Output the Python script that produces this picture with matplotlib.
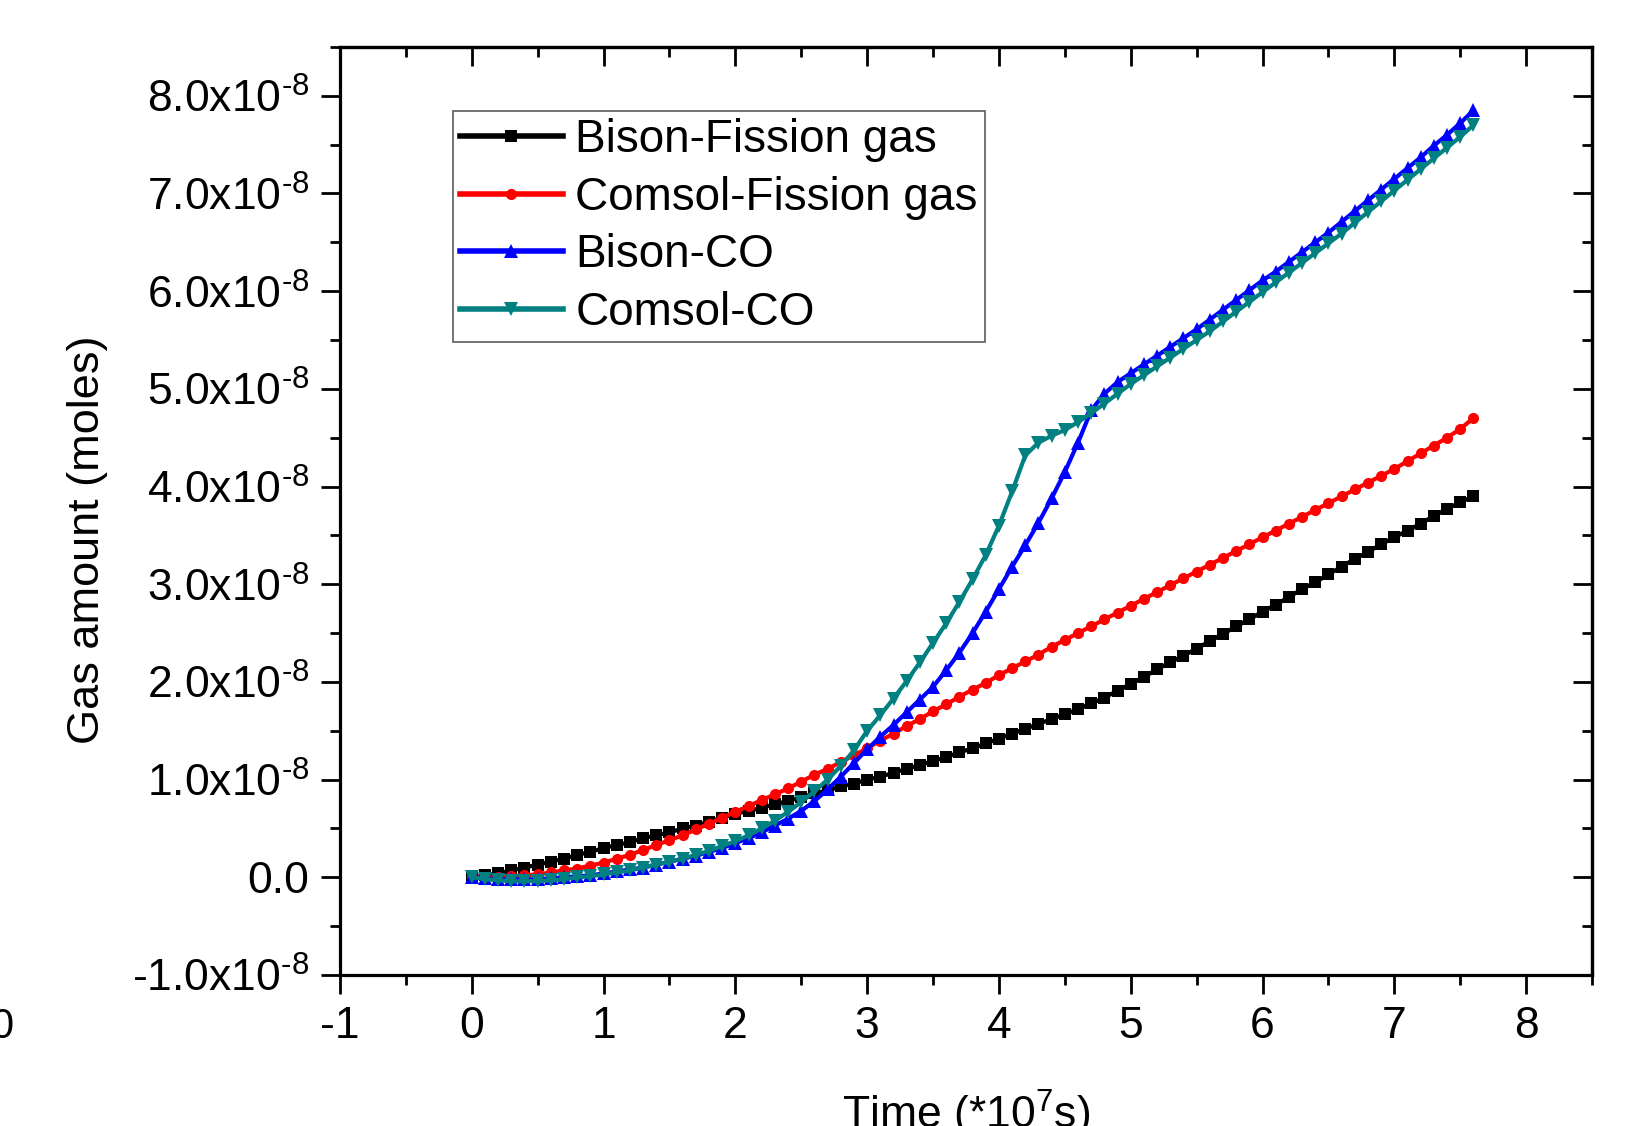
import matplotlib
matplotlib.use("Agg")
import matplotlib.pyplot as plt
from matplotlib.ticker import MultipleLocator, FixedLocator, FuncFormatter

plt.rcParams['font.family'] = ['Liberation Sans', 'DejaVu Sans']
plt.rcParams['mathtext.fontset'] = 'custom'
plt.rcParams['mathtext.rm'] = 'Liberation Sans'
plt.rcParams['mathtext.it'] = 'Liberation Sans:italic'
plt.rcParams['mathtext.bf'] = 'Liberation Sans:bold'

# ---- data (time in 1e7 s, gas amount in 1e-8 moles) ----
time = [0.0, 0.1, 0.2, 0.3, 0.4, 0.5, 0.6, 0.7, 0.8, 0.9,
        1.0, 1.1, 1.2, 1.3, 1.4, 1.5, 1.6, 1.7, 1.8, 1.9,
        2.0, 2.1, 2.2, 2.3, 2.4, 2.5, 2.6, 2.7, 2.8, 2.9,
        3.0, 3.1, 3.2, 3.3, 3.4, 3.5, 3.6, 3.7, 3.8, 3.9,
        4.0, 4.1, 4.2, 4.3, 4.4, 4.5, 4.6, 4.7, 4.8, 4.9,
        5.0, 5.1, 5.2, 5.3, 5.4, 5.5, 5.6, 5.7, 5.8, 5.9,
        6.0, 6.1, 6.2, 6.3, 6.4, 6.5, 6.6, 6.7, 6.8, 6.9,
        7.0, 7.1, 7.2, 7.3, 7.4, 7.5, 7.6]

bison_fg = [0.00, 0.02, 0.04, 0.07, 0.10, 0.13, 0.16, 0.19, 0.23, 0.26,
            0.30, 0.33, 0.36, 0.40, 0.43, 0.46, 0.50, 0.53, 0.57, 0.61,
            0.65, 0.68, 0.71, 0.75, 0.78, 0.82, 0.86, 0.89, 0.93, 0.96,
            1.00, 1.03, 1.07, 1.11, 1.15, 1.19, 1.23, 1.28, 1.32, 1.37,
            1.42, 1.47, 1.52, 1.57, 1.62, 1.67, 1.72, 1.78, 1.84, 1.91,
            1.98, 2.05, 2.13, 2.20, 2.27, 2.34, 2.42, 2.49, 2.57, 2.64,
            2.72, 2.79, 2.87, 2.95, 3.02, 3.10, 3.18, 3.26, 3.33, 3.41,
            3.48, 3.55, 3.62, 3.70, 3.77, 3.84, 3.90]

comsol_fg = [0.00, 0.00, 0.00, 0.01, 0.02, 0.03, 0.05, 0.07, 0.09, 0.12,
             0.15, 0.19, 0.23, 0.28, 0.33, 0.38, 0.43, 0.49, 0.55, 0.61,
             0.67, 0.73, 0.79, 0.85, 0.91, 0.98, 1.05, 1.11, 1.18, 1.25,
             1.32, 1.40, 1.47, 1.55, 1.62, 1.70, 1.77, 1.85, 1.92, 1.99,
             2.07, 2.14, 2.21, 2.28, 2.36, 2.43, 2.50, 2.57, 2.64, 2.71,
             2.78, 2.85, 2.92, 2.99, 3.06, 3.13, 3.20, 3.27, 3.34, 3.41,
             3.48, 3.55, 3.62, 3.69, 3.76, 3.83, 3.90, 3.97, 4.04, 4.11,
             4.18, 4.26, 4.34, 4.42, 4.50, 4.59, 4.70]

bison_co = [0.00, -0.01, -0.02, -0.02, -0.02, -0.02, -0.01, 0.00, 0.01, 0.02,
            0.04, 0.06, 0.08, 0.10, 0.13, 0.16, 0.19, 0.22, 0.26, 0.30,
            0.35, 0.40, 0.46, 0.53, 0.60, 0.68, 0.78, 0.90, 1.03, 1.17,
            1.31, 1.44, 1.56, 1.69, 1.82, 1.95, 2.12, 2.30, 2.50, 2.72,
            2.95, 3.18, 3.40, 3.63, 3.88, 4.15, 4.45, 4.78, 4.95, 5.07,
            5.16, 5.25, 5.34, 5.43, 5.52, 5.61, 5.71, 5.81, 5.91, 6.01,
            6.11, 6.20, 6.30, 6.40, 6.50, 6.60, 6.71, 6.82, 6.93, 7.04,
            7.15, 7.26, 7.37, 7.49, 7.60, 7.72, 7.85]

comsol_co = [0.00, -0.02, -0.03, -0.04, -0.04, -0.04, -0.03, -0.02, 0.00, 0.01,
             0.03, 0.05, 0.07, 0.10, 0.13, 0.16, 0.19, 0.23, 0.27, 0.32,
             0.37, 0.43, 0.50, 0.58, 0.67, 0.77, 0.88, 1.00, 1.14, 1.30,
             1.50, 1.66, 1.83, 2.01, 2.20, 2.40, 2.60, 2.82, 3.05, 3.30,
             3.60, 3.95, 4.32, 4.45, 4.52, 4.58, 4.66, 4.75, 4.85, 4.95,
             5.05, 5.14, 5.23, 5.32, 5.41, 5.50, 5.59, 5.69, 5.79, 5.89,
             5.99, 6.09, 6.19, 6.29, 6.39, 6.49, 6.59, 6.70, 6.81, 6.92,
             7.03, 7.14, 7.25, 7.36, 7.47, 7.58, 7.70]

labels = ["Bison-Fission gas", "Comsol-Fission gas", "Bison-CO", "Comsol-CO"]
y_ticks = [-1.0, 0.0, 1.0, 2.0, 3.0, 4.0, 5.0, 6.0, 7.0, 8.0]
x_ticks = [-1, 0, 1, 2, 3, 4, 5, 6, 7, 8]

scale = 1e-8
series = [bison_fg, comsol_fg, bison_co, comsol_co]
colors = ["#000000", "#FF0000", "#0000FF", "#008080"]
markers = ["s", "o", "^", "v"]
msizes = [8, 8, 10.5, 10.5]

fig = plt.figure(figsize=(16.52, 11.26), dpi=100)
ax = fig.add_axes([0.2058, 0.1341, 0.9637 - 0.2058, 0.9583 - 0.1341])

for ys, c, m, ms, lab in zip(series, colors, markers, msizes, labels):
    ax.plot(time, [v * scale for v in ys], color=c, marker=m, markersize=ms,
            linewidth=3.0, markeredgewidth=0, label=lab)

ax.set_xlim(-1, 8.5)
ax.set_ylim(-1.0e-8, 8.5e-8)

ax.xaxis.set_major_locator(FixedLocator(x_ticks))
ax.xaxis.set_minor_locator(MultipleLocator(0.5))
ax.yaxis.set_major_locator(FixedLocator([v * scale for v in y_ticks]))
ax.yaxis.set_minor_locator(MultipleLocator(0.5e-8))


def yfmt(v, pos):
    m = v / scale
    if abs(m) < 1e-9:
        return "0.0"
    return "%.1fx10$^{\\text{-8}}$" % m


ax.yaxis.set_major_formatter(FuncFormatter(yfmt))
ax.xaxis.set_major_formatter(FuncFormatter(lambda v, p: "%d" % round(v)))

for s in ax.spines.values():
    s.set_linewidth(2.3)

ax.tick_params(axis='both', which='major', direction='out', length=14, width=2.0,
               labelsize=32, pad=8)
ax.tick_params(axis='both', which='minor', direction='out', length=7, width=2.0)

# top / right inward ticks
axt = ax.secondary_xaxis('top')
axt.xaxis.set_major_locator(FixedLocator(x_ticks))
axt.xaxis.set_minor_locator(MultipleLocator(0.5))
axt.tick_params(which='major', direction='in', length=14, width=2.0, labeltop=False)
axt.tick_params(which='minor', direction='in', length=7, width=2.0)
axt.spines['top'].set_linewidth(2.3)
axr = ax.secondary_yaxis('right')
axr.yaxis.set_major_locator(FixedLocator([v * scale for v in y_ticks]))
axr.yaxis.set_minor_locator(MultipleLocator(0.5e-8))
axr.tick_params(which='major', direction='in', length=14, width=2.0, labelright=False)
axr.tick_params(which='minor', direction='in', length=7, width=2.0)
axr.spines['right'].set_linewidth(2.3)

ax.set_ylabel("Gas amount (moles)", fontsize=32.5)
ax.yaxis.set_label_coords(-0.185, 0.469)
ax.set_xlabel("Time (*10$^{\\mathregular{7}}$s)", fontsize=32)
ax.xaxis.set_label_coords(0.5, -0.122)

leg = ax.legend(loc='upper left', bbox_to_anchor=(0.090, 0.931), borderaxespad=0,
                fontsize=33, frameon=True, fancybox=False, handlelength=2.25,
                handletextpad=0.28, labelspacing=0.3, borderpad=0.15)
leg.get_frame().set_edgecolor('#333333')
leg.get_frame().set_linewidth(1.2)
for line in leg.get_lines():
    line.set_linewidth(4)

fig.text(14 / 1652, 1 - 1027 / 1126, "0", ha='right', va='center', fontsize=30)

fig.savefig("out.png", dpi=100)
